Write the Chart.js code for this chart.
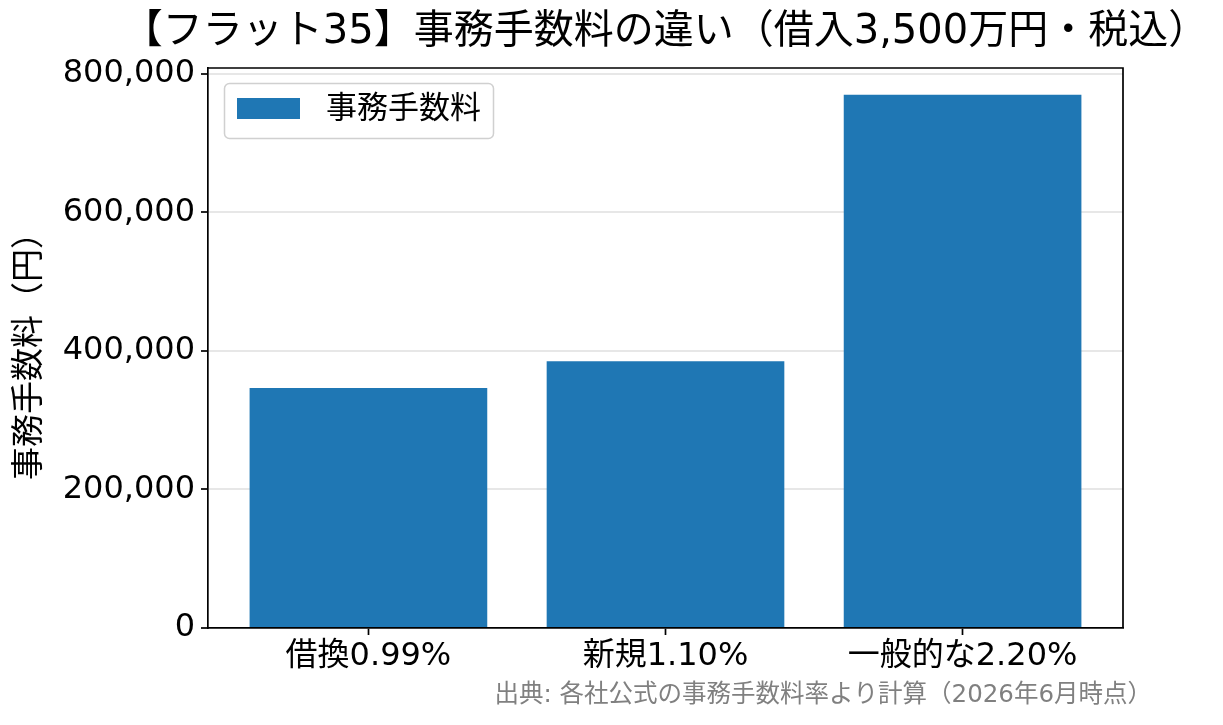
<!DOCTYPE html>
<html><head><meta charset="utf-8">
<script src="https://cdn.jsdelivr.net/npm/chart.js@4"></script>
<style>html,body{margin:0;padding:0;background:#fff}</style>
</head><body>
<canvas id="c" width="1223" height="725"></canvas>
<script>
// data
const titleText = '【フラット35】事務手数料の違い（借入3,500万円・税込）';
const categories = ['借換0.99%', '新規1.10%', '一般的な2.20%'];
const positions = [0, 1, 2];
const fees = [346500, 385000, 770000];
const seriesLabel = '事務手数料';
const yTicks = [0, 200000, 400000, 600000, 800000];
const yAxisLabel = '事務手数料（円）';
const sourceNote = '出典: 各社公式の事務手数料率より計算（2026年6月時点）';

const FONT = '"DejaVu Sans", "Noto Sans CJK JP", sans-serif';
const BLUE = '#1f77b4';

// frame, title, legend, source note
const decor = {
  id: 'decor',
  afterDraw(chart){
    const c = chart.ctx, a = chart.chartArea;
    c.save();
    c.strokeStyle = '#000'; c.lineWidth = 1.7;
    c.beginPath();
    c.moveTo(a.left, a.top); c.lineTo(a.right, a.top); c.lineTo(a.right, a.bottom);
    c.stroke();

    c.fillStyle = '#000';
    c.font = '40px ' + FONT;
    c.textAlign = 'center'; c.textBaseline = 'middle';
    c.fillText(titleText, (a.left + a.right) / 2, 33);

    // legend box
    const ds = chart.data.datasets[0];
    c.beginPath();
    c.roundRect(224.5, 83.5, 269, 55, 5);
    c.fillStyle = 'rgba(255,255,255,0.8)'; c.fill();
    c.strokeStyle = '#d0d0d0'; c.lineWidth = 1.5; c.stroke();
    c.fillStyle = ds.backgroundColor;
    c.fillRect(237, 98, 63, 21);
    c.fillStyle = '#000';
    c.font = '31px ' + FONT;
    c.textAlign = 'left';
    c.fillText(ds.label, 326, 110);

    c.fillStyle = '#808080';
    c.font = '24.5px ' + FONT;
    c.textAlign = 'right';
    c.fillText(sourceNote, 1152, 696);
    c.restore();
  }
};

new Chart(document.getElementById('c'), {
  type: 'bar',
  data: {
    datasets: [{
      label: seriesLabel,
      data: positions.map((p, i) => ({x: p, y: fees[i]})),
      backgroundColor: BLUE,
      borderWidth: 0,
      categoryPercentage: 1,
      barPercentage: 0.8
    }]
  },
  options: {
    responsive: false,
    animation: false,
    devicePixelRatio: 1,
    layout: {padding: {top: 68, right: 100, bottom: 0, left: 0}},
    plugins: {legend: {display: false}, tooltip: {enabled: false}},
    scales: {
      x: {
        type: 'linear', min: -0.54, max: 2.54, z: 1, offset: false,
        afterBuildTicks: s => { s.ticks = positions.map(v => ({value: v})); },
        afterFit: s => { s.height = 97; },
        ticks: {
          callback: v => categories[v],
          font: {family: FONT, size: 32}, color: '#000',
          padding: 2, maxRotation: 0, autoSkip: false
        },
        grid: {offset: false, drawOnChartArea: false, tickLength: 7, tickColor: '#000', tickWidth: 1.7},
        border: {color: '#000', width: 1.7}
      },
      y: {
        min: 0, max: 808500, z: 1,
        afterBuildTicks: s => { s.ticks = yTicks.map(v => ({value: v})); },
        afterFit: s => { s.width = 208; },
        ticks: {
          callback: v => v.toLocaleString('en-US'),
          font: {family: FONT, size: 32}, color: '#000', padding: 6
        },
        grid: {
          color: ctx => (ctx.tick && ctx.tick.value === 0) ? 'rgba(0,0,0,0)' : 'rgba(176,176,176,0.3)',
          lineWidth: 2, tickLength: 7, tickColor: '#000', tickWidth: 1.7
        },
        border: {color: '#000', width: 1.7},
        title: {
          display: true, text: yAxisLabel, color: '#000',
          font: {family: FONT, size: 33}, padding: {top: 11, bottom: 0}
        }
      }
    }
  },
  plugins: [decor]
});
</script>
</body></html>
